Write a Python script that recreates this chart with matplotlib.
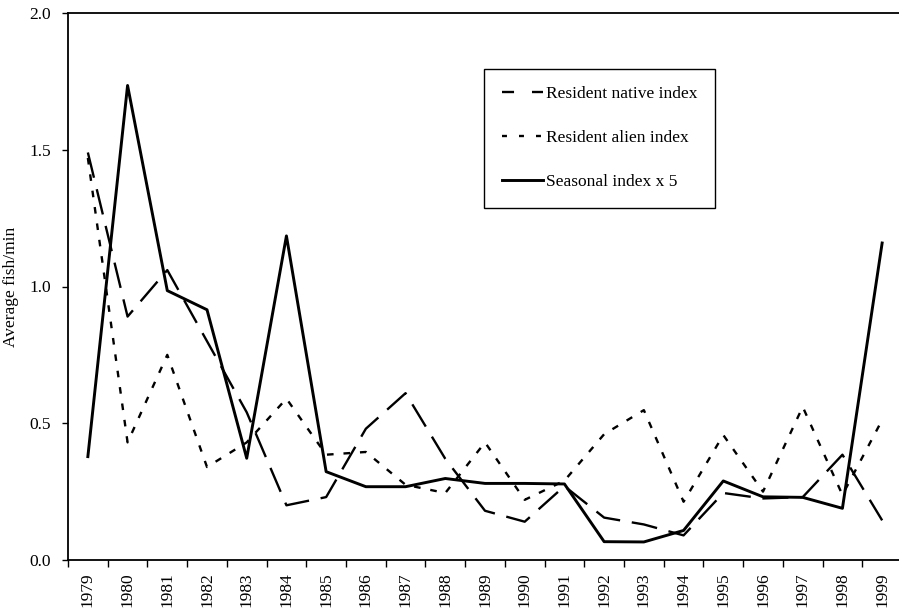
import matplotlib
matplotlib.use("Agg")
import matplotlib.pyplot as plt
from matplotlib.lines import Line2D

years = [str(y) for y in range(1979, 2000)]
native = [1.49, 0.89, 1.06, 0.80, 0.54, 0.20, 0.23, 0.48, 0.61, 0.37, 0.18, 0.14,
          0.27, 0.155, 0.13, 0.09, 0.245, 0.225, 0.23, 0.385, 0.145]
alien = [1.47, 0.43, 0.75, 0.34, 0.43, 0.59, 0.385, 0.395, 0.275, 0.245, 0.43, 0.22,
         0.29, 0.46, 0.548, 0.213, 0.457, 0.25, 0.56, 0.238, 0.512]
seasonal = [0.378, 1.735, 0.985, 0.915, 0.372, 1.185, 0.323, 0.268, 0.268, 0.298, 0.28, 0.28,
            0.278, 0.067, 0.066, 0.108, 0.289, 0.231, 0.229, 0.189, 1.159]
labels = ['Resident native index', 'Resident alien index', 'Seasonal index x 5']
yticks = [0.0, 0.5, 1.0, 1.5, 2.0]

plt.rcParams['font.family'] = ['Liberation Serif', 'DejaVu Serif']
FS = 12.5

fig = plt.figure(figsize=(8.99, 6.08), dpi=100)
W, H = 899, 608
ax = fig.add_axes([68 / W, (H - 560) / H, (902 - 68) / W, (560 - 13) / H])

x = list(range(len(years)))
ax.plot(x, native, color='black', lw=1.7, dashes=(11, 5))
ax.plot(x, alien, color='black', lw=1.7, dashes=(2.8, 4.2))
ax.plot(x, seasonal, color='black', lw=2.1, linestyle='-')

ax.set_xlim(-0.5, len(years) - 0.5)
ax.set_ylim(0, 2.0)
ax.set_yticks(yticks)
ax.set_yticklabels([f"{v:.1f}" for v in yticks], fontsize=FS)
ax.set_xticks(x)
ax.set_xticklabels(years, rotation=90, fontsize=FS)
ax.tick_params(axis='x', which='major', length=0, pad=9)
ax.set_xticks([i - 0.5 for i in range(len(years) + 1)], minor=True)
ax.tick_params(axis='x', which='minor', length=5, direction='out', width=1)
ax.tick_params(axis='y', length=4, direction='out', width=1, pad=8)
ax.set_ylabel('Average fish/min', fontsize=FS, labelpad=8)

for s in ['left', 'bottom', 'top']:
    ax.spines[s].set_linewidth(1.3)
ax.spines['right'].set_visible(False)

handles = [
    Line2D([], [], color='black', lw=1.7, dashes=(5.1, 7.6)),
    Line2D([], [], color='black', lw=1.7, dashes=(2.1, 5.1)),
    Line2D([], [], color='black', lw=2.1, linestyle='-'),
]
leg = ax.legend(handles, labels, loc='upper left', bbox_to_anchor=(0.499, 0.898), fontsize=FS,
                frameon=True, fancybox=False, edgecolor='black', framealpha=1,
                handlelength=2.4, handletextpad=0.15, labelspacing=1.6,
                borderpad=1.0, borderaxespad=0)
leg.get_frame().set_linewidth(1.0)

fig.savefig('out.png', dpi=100)
